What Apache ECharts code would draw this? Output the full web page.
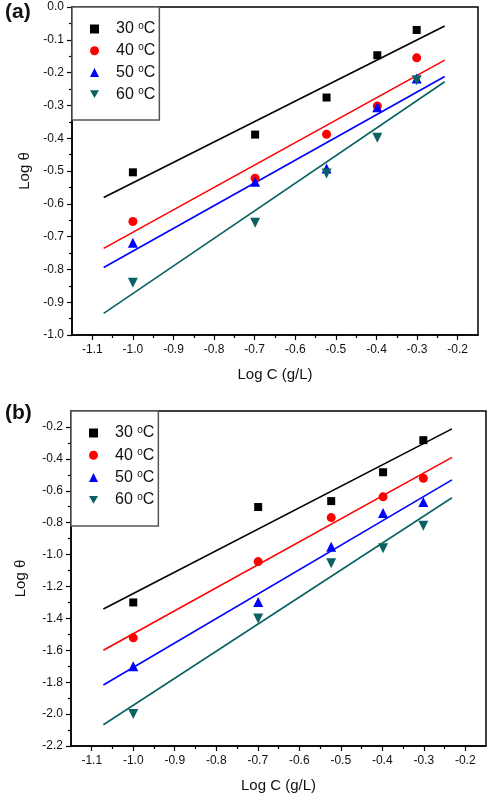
<!DOCTYPE html>
<html>
<head>
<meta charset="utf-8">
<title>Log theta vs Log C</title>
<script src="https://cdn.jsdelivr.net/npm/echarts@6.0.0/dist/echarts.min.js"></script>
<style>
    html, body { margin: 0; padding: 0; background: #fff; }
    #main { width: 487px; height: 794px; }
</style>
</head>
<body>
<div id="main"></div>
<script>
// data
var temps = ['30', '40', '50', '60'];
var logC = [-1.0, -0.699, -0.523, -0.398, -0.301];

var thetaA30 = [-0.504, -0.389, -0.276, -0.147, -0.070];
var thetaA40 = [-0.654, -0.522, -0.388, -0.302, -0.155];
var thetaA50 = [-0.719, -0.533, -0.492, -0.306, -0.218];
var thetaA60 = [-0.841, -0.658, -0.508, -0.399, -0.223];

var thetaB30 = [-1.300, -0.702, -0.665, -0.484, -0.283];
var thetaB40 = [-1.522, -1.044, -0.768, -0.638, -0.522];
var thetaB50 = [-1.700, -1.297, -0.951, -0.739, -0.671];
var thetaB60 = [-2.000, -1.400, -1.055, -0.961, -0.820];

// fitted lines, ends
var fitX = [-1.072, -0.232];
var fitA30 = [-0.581, -0.058];
var fitA40 = [-0.736, -0.162];
var fitA50 = [-0.794, -0.212];
var fitA60 = [-0.934, -0.228];
var fitB30 = [-1.341, -0.212];
var fitB40 = [-1.600, -0.391];
var fitB50 = [-1.818, -0.532];
var fitB60 = [-2.067, -0.644];

// tick values
var xTicks = [-1.1, -1.0, -0.9, -0.8, -0.7, -0.6, -0.5, -0.4, -0.3, -0.2];
var xMinor = [-1.05, -0.95, -0.85, -0.75, -0.65, -0.55, -0.45, -0.35, -0.25];
var yTicksA = [-1.0, -0.9, -0.8, -0.7, -0.6, -0.5, -0.4, -0.3, -0.2, -0.1, 0.0];
var yMinorA = [-0.95, -0.85, -0.75, -0.65, -0.55, -0.45, -0.35, -0.25, -0.15, -0.05];
var yTicksB = [-2.2, -2.0, -1.8, -1.6, -1.4, -1.2, -1.0, -0.8, -0.6, -0.4, -0.2];
var yMinorB = [-2.1, -1.9, -1.7, -1.5, -1.3, -1.1, -0.9, -0.7, -0.5, -0.3];

var colors = ['#000000', '#ff0000', '#0000ff', '#0b6262'];
var downTri = 'path://M0,0 L10,0 L5,8.7 Z';
var symbols = ['rect', 'circle', 'triangle', downTri];
var symSizes = [8, 9, 10, 10];

var names = [];
for (var i = 0; i < temps.length; i++) {
    names.push(temps[i] + ' oC');
}

function pairs(xs, ys) {
    var out = [];
    for (var i = 0; i < xs.length; i++) {
        out.push([xs[i], ys[i]]);
    }
    return out;
}

var fontFam = '"Liberation Sans", Arial, sans-serif';

function mainX(grid) {
    return {
        type: 'value', gridIndex: grid, position: 'bottom', min: -1.15, max: -0.15,
        name: 'Log C (g/L)', nameLocation: 'middle', nameGap: 32,
        nameTextStyle: { fontFamily: fontFam, fontSize: 15, color: '#111' },
        axisLine: { show: true, onZero: false, lineStyle: { color: '#000', width: 1.5 } },
        axisTick: { show: true, inside: false, length: 5, customValues: xTicks, lineStyle: { color: '#000', width: 1.2 } },
        axisLabel: {
            customValues: xTicks, margin: 9, color: '#111', fontFamily: fontFam, fontSize: 12,
            formatter: function (v) { return v.toFixed(1); }
        },
        splitLine: { show: false }
    };
}

function minorX(grid) {
    return {
        type: 'value', gridIndex: grid, position: 'bottom', min: -1.15, max: -0.15,
        axisLine: { show: false, onZero: false },
        axisTick: { show: true, inside: false, length: 3, customValues: xMinor, lineStyle: { color: '#000', width: 1.2 } },
        axisLabel: { show: false },
        splitLine: { show: false }
    };
}

function mainY(grid, mn, mx, ticks, gap) {
    return {
        type: 'value', gridIndex: grid, position: 'left', min: mn, max: mx,
        name: 'Log \u03b8', nameLocation: 'middle', nameGap: gap,
        nameTextStyle: { fontFamily: fontFam, fontSize: 15, color: '#111' },
        axisLine: { show: true, onZero: false, lineStyle: { color: '#000', width: 1.5 } },
        axisTick: { show: true, inside: false, length: 5, customValues: ticks, lineStyle: { color: '#000', width: 1.2 } },
        axisLabel: {
            customValues: ticks, margin: 8, color: '#111', fontFamily: fontFam, fontSize: 12,
            formatter: function (v) { return v.toFixed(1); }
        },
        splitLine: { show: false }
    };
}

function minorY(grid, mn, mx, ticks) {
    return {
        type: 'value', gridIndex: grid, position: 'left', min: mn, max: mx,
        axisLine: { show: false, onZero: false },
        axisTick: { show: true, inside: false, length: 3, customValues: ticks, lineStyle: { color: '#000', width: 1.2 } },
        axisLabel: { show: false },
        splitLine: { show: false }
    };
}

function legendFor(top, left, gap) {
    var data = [];
    for (var i = 0; i < names.length; i++) {
        data.push({ name: names[i], icon: symbols[i], itemStyle: { color: colors[i] } });
    }
    return {
        orient: 'vertical', left: left, top: top,
        data: data,
        itemWidth: 9, itemHeight: 9, itemGap: gap,
        padding: [14, 4, 18, 18],
        backgroundColor: '#fff',
        borderColor: '#555', borderWidth: 1.5, borderRadius: 0,
        selectedMode: false,
        formatter: function (name) {
            var t = name.split(' ')[0];
            return '{g|' + t + ' }{s|o}{n|C}';
        },
        textStyle: {
            rich: {
                g: { fontFamily: fontFam, fontSize: 16, color: '#111', lineHeight: 16, padding: [0, 0, 0, 12] },
                n: { fontFamily: fontFam, fontSize: 16, color: '#111', lineHeight: 16 },
                s: { fontFamily: fontFam, fontSize: 10, color: '#111', lineHeight: 6, verticalAlign: 'top' }
            }
        }
    };
}

var seriesAll = [];
var setsA = [thetaA30, thetaA40, thetaA50, thetaA60];
var setsB = [thetaB30, thetaB40, thetaB50, thetaB60];
var fitsA = [fitA30, fitA40, fitA50, fitA60];
var fitsB = [fitB30, fitB40, fitB50, fitB60];

function addPanel(grid, sets, fits) {
    for (var i = 0; i < temps.length; i++) {
        seriesAll.push({
            name: 'fit' + grid + '_' + temps[i], type: 'line',
            xAxisIndex: grid * 2, yAxisIndex: grid * 2,
            data: pairs(fitX, fits[i]),
            showSymbol: false, symbol: 'none', silent: true,
            lineStyle: { color: colors[i], width: 1.6 },
            z: 2
        });
        seriesAll.push({
            name: names[i], type: 'scatter',
            xAxisIndex: grid * 2, yAxisIndex: grid * 2,
            data: pairs(logC, sets[i]),
            symbol: symbols[i], symbolSize: symSizes[i],
            itemStyle: { color: colors[i], opacity: 1 },
            z: 3
        });
    }
}
addPanel(0, setsA, fitsA);
addPanel(1, setsB, fitsB);

var option = {
    animation: false,
    backgroundColor: '#fff',
    title: [
        { text: '(a)', left: 0, top: -3, textStyle: { fontFamily: fontFam, fontSize: 21, fontWeight: 'bold', color: '#111' } },
        { text: '(b)', left: 0, top: 398, textStyle: { fontFamily: fontFam, fontSize: 21, fontWeight: 'bold', color: '#111' } }
    ],
    grid: [
        { left: 72, top: 7, width: 406, height: 328, show: true, borderColor: '#000', borderWidth: 1.5, backgroundColor: 'transparent' },
        { left: 71, top: 411, width: 415, height: 338, show: true, borderColor: '#000', borderWidth: 1.5, backgroundColor: 'transparent' }
    ],
    legend: [legendFor(7, 72, 5.7), legendFor(411, 71, 6.3)],
    xAxis: [mainX(0), minorX(0), mainX(1), minorX(1)],
    yAxis: [
        mainY(0, -1.0, 0.0, yTicksA, 38), minorY(0, -1.0, 0.0, yMinorA),
        mainY(1, -2.2, -0.1, yTicksB, 43), minorY(1, -2.2, -0.1, yMinorB)
    ],
    series: seriesAll
};

var myChart = echarts.init(document.getElementById('main'));
myChart.setOption(option);
</script>
</body>
</html>
